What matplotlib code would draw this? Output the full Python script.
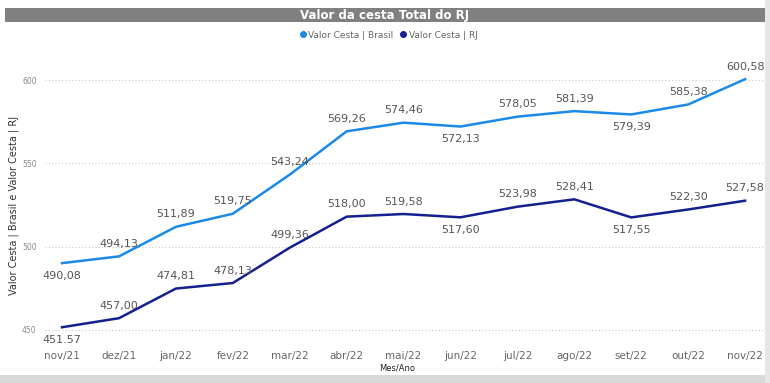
import matplotlib
matplotlib.use("Agg")
import matplotlib.pyplot as plt
from matplotlib.patches import Rectangle
from matplotlib.lines import Line2D

months = ["nov/21", "dez/21", "jan/22", "fev/22", "mar/22", "abr/22", "mai/22",
          "jun/22", "jul/22", "ago/22", "set/22", "out/22", "nov/22"]
brasil = [490.08, 494.13, 511.89, 519.75, 543.24, 569.26, 574.46, 572.13, 578.05,
          581.39, 579.39, 585.38, 600.58]
rj = [451.57, 457.00, 474.81, 478.13, 499.36, 518.00, 519.58, 517.60, 523.98,
      528.41, 517.55, 522.30, 527.58]
brasil_labels = ["490,08", "494,13", "511,89", "519,75", "543,24", "569,26", "574,46",
                 "572,13", "578,05", "581,39", "579,39", "585,38", "600,58"]
rj_labels = ["451.57", "457,00", "474,81", "478,13", "499,36", "518,00", "519,58",
             "517,60", "523,98", "528,41", "517,55", "522,30", "527,58"]
brasil_below = [True, False, False, False, False, False, False, True, False, False, True, False, False]
rj_below = [True, False, False, False, False, False, False, True, False, False, True, False, False]

W, H = 770, 383
fig = plt.figure(figsize=(W / 100, H / 100), dpi=100)
fig.patch.set_facecolor("white")

# card shadow
fig.patches.append(Rectangle((0, 0), 1, 8 / H, transform=fig.transFigure,
                             facecolor="#d9d9d9", edgecolor="none", zorder=0))
fig.patches.append(Rectangle((1 - 5 / W, 0), 5 / W, 1, transform=fig.transFigure,
                             facecolor="#e6e6e6", edgecolor="none", zorder=0))
# title bar
fig.patches.append(Rectangle((5 / W, 1 - 22 / H), 760 / W, 14 / H, transform=fig.transFigure,
                             facecolor="#808080", edgecolor="none", zorder=1))
fig.text(385 / W, 1 - 15 / H, "Valor da cesta Total do RJ", color="white",
         fontsize=8.5, fontweight="bold", ha="center", va="center", family="DejaVu Sans")

c_br = "#1a8ae6"
c_rj = "#14208f"

handles = [Line2D([], [], marker="o", linestyle="none", color=c_br, markersize=4),
           Line2D([], [], marker="o", linestyle="none", color=c_rj, markersize=4)]
leg = fig.legend(handles, ["Valor Cesta | Brasil", "Valor Cesta | RJ"], ncol=2,
                 loc="center", bbox_to_anchor=(388 / W, 1 - 35 / H), frameon=False,
                 fontsize=6.5, handletextpad=0.1, columnspacing=0.6, handlelength=1.0,
                 borderpad=0)
for t in leg.get_texts():
    t.set_color("#666666")

ax_l, ax_r, ax_t, ax_b = 45, 765, 62, 340
ax = fig.add_axes([ax_l / W, 1 - ax_b / H, (ax_r - ax_l) / W, (ax_b - ax_t) / H])
x = list(range(len(months)))
ax.plot(x, brasil, color=c_br, lw=1.8, zorder=3)
ax.plot(x, rj, color=c_rj, lw=1.8, zorder=3)

for xi, v, lab, below in zip(x, brasil, brasil_labels, brasil_below):
    ax.annotate(lab, (xi, v), xytext=(0, -9 if below else 9), textcoords="offset points",
                ha="center", va="center", fontsize=8, color="#555555")
for xi, v, lab, below in zip(x, rj, rj_labels, rj_below):
    ax.annotate(lab, (xi, v), xytext=(0, -9 if below else 9), textcoords="offset points",
                ha="center", va="center", fontsize=8, color="#555555")

ax.set_xlim(-0.3, 12.35)
ax.set_ylim(443.9, 610.9)
ax.set_yticks([450, 500, 550, 600])
ax.set_xticks(x)
ax.set_xticklabels(months)
for s in ax.spines.values():
    s.set_visible(False)
ax.tick_params(axis="x", length=0, labelsize=7.5, labelcolor="#666666", pad=8)
ax.tick_params(axis="y", length=0, labelsize=5.5, labelcolor="#888888", pad=6)
ax.grid(axis="y", color="#cccccc", linestyle=(0, (1, 2)), lw=0.8)
ax.set_axisbelow(True)
ax.patch.set_alpha(0)

fig.text(14 / W, 1 - 205 / H, "Valor Cesta | Brasil e Valor Cesta | RJ", rotation=90,
         fontsize=7, color="#333333", ha="center", va="center")
fig.text(397 / W, 1 - 368 / H, "Mes/Ano", fontsize=6, color="#222222", ha="center",
         va="center")

fig.savefig("out.png", dpi=100)
